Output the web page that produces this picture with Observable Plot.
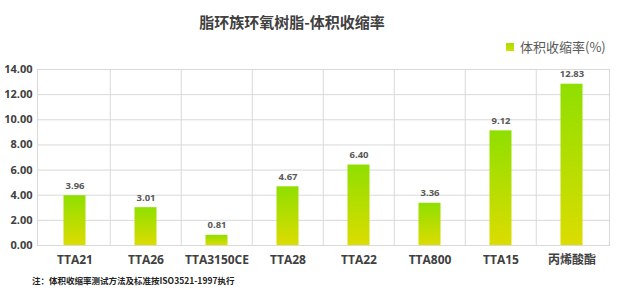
<!DOCTYPE html>
<html>
<head>
<meta charset="utf-8">
<script src="https://cdn.jsdelivr.net/npm/d3@7"></script>
<script src="https://cdn.jsdelivr.net/npm/@observablehq/plot@0.6"></script>
<style>
  html, body { margin: 0; padding: 0; background: #fff; }
  #wrap { position: relative; width: 617px; height: 291px; overflow: hidden;
          font-family: "Open Sans", "Noto Sans CJK SC", sans-serif; }
  #title { position: absolute; top: 11px; left: 0; width: 584px; text-align: center;
           font: bold 15px "Noto Sans CJK SC", sans-serif; color: #404040; }
  #legend { position: absolute; top: 37px; left: 506px; font: 13px "Noto Sans CJK SC", sans-serif;
            color: #595959; display: flex; align-items: center; white-space: nowrap; }
  #legend .sw { width: 8px; height: 8px; margin-right: 6px;
                background: linear-gradient(#a6de00, #d2de00); }
  #chart { position: absolute; top: 56px; left: 0; }
  #note { position: absolute; top: 274px; left: 32px; font: bold 8.5px "Noto Sans CJK SC", serif;
          color: #222; white-space: nowrap; }
</style>
</head>
<body>
<div id="wrap">
  <div id="title">脂环族环氧树脂-体积收缩率</div>
  <div id="legend"><span class="sw"></span>体积收缩率(%)</div>
  <div id="chart"></div>
  <div id="note">注：体积收缩率测试方法及标准按ISO3521-1997执行</div>
</div>
<script>
const categories = ["TTA21", "TTA26", "TTA3150CE", "TTA28", "TTA22", "TTA800", "TTA15", "丙烯酸酯"];
const shrinkage = [3.96, 3.01, 0.81, 4.67, 6.40, 3.36, 9.12, 12.83];
const yTicks = [0, 2, 4, 6, 8, 10, 12, 14];

const data = categories.map((c, i) => ({name: c, value: shrinkage[i]}));

const W = 617, H = 217, ML = 37, MR = 8, MT = 13, MB = 28;
const band = (W - ML - MR) / categories.length;

const gradientDefs = () => {
  const defs = d3.create("svg:defs");
  const g = defs.append("linearGradient").attr("id", "barGrad")
    .attr("x1", 0).attr("y1", 0).attr("x2", 0).attr("y2", 1);
  g.append("stop").attr("offset", "0%").attr("stop-color", "#8fdf00");
  g.append("stop").attr("offset", "100%").attr("stop-color", "#dcdc00");
  return defs.node();
};

const chart = Plot.plot({
  width: W, height: H,
  marginLeft: ML, marginRight: MR, marginTop: MT, marginBottom: MB,
  style: {fontFamily: '"Open Sans", "Noto Sans CJK SC", sans-serif', background: "transparent"},
  x: {domain: categories, padding: 0},
  y: {domain: [0, 14]},
  marks: [
    gradientDefs,
    Plot.gridY(yTicks, {stroke: "#d9d9d9", strokeOpacity: 1}),
    Plot.ruleX(categories.slice(1), {dx: -band / 2, stroke: "#d9d9d9", y1: 0, y2: 14}),
    Plot.frame({stroke: "#d9d9d9"}),
    Plot.barY(data, {x: "name", y: "value", fill: "url(#barGrad)", insetLeft: 24.5, insetRight: 24.5}),
    Plot.text(data, {x: "name", y: "value", text: d => d.value.toFixed(2), dy: -10,
      fontSize: 9.5, fontWeight: "bold", fill: "#595959"}),
    Plot.axisY(yTicks, {tickSize: 0, tickPadding: 5, tickFormat: d => d.toFixed(2),
      fontSize: 11, fontWeight: "bold", fill: "#404040", label: null}),
    Plot.axisX({tickSize: 0, tickPadding: 10, fontSize: 12, fontWeight: "bold", fill: "#404040", label: null})
  ]
});
document.getElementById("chart").appendChild(chart);
</script>
</body>
</html>
